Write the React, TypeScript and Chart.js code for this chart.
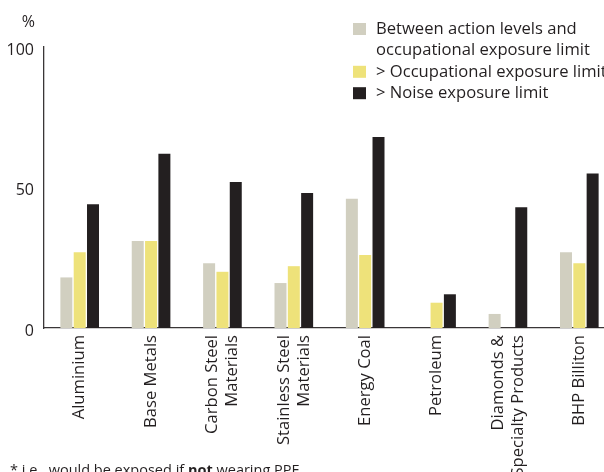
import React, { useEffect, useRef } from "react";
import { Chart, registerables } from "chart.js";

Chart.register(...registerables);

// Business units, with multi-line names split into lines
const categories: string[][] = [
  ["Aluminium"],
  ["Base Metals"],
  ["Carbon Steel", "Materials"],
  ["Stainless Steel", "Materials"],
  ["Energy Coal"],
  ["Petroleum"],
  ["Diamonds &", "Specialty Products"],
  ["BHP Billiton"],
];

// Share of employees (%) in each exposure band
const betweenActionLevels = [18, 31, 23, 16, 46, 0, 5, 27];
const aboveOccupational = [27, 31, 20, 22, 26, 9, 0, 23];
const aboveNoise = [44, 62, 52, 48, 68, 12, 43, 55];

const yTicks = [0, 50, 100];

const legendItems = [
  { lines: ["Between action levels and", "occupational exposure limit"], color: "#d1cfc0" },
  { lines: ["> Occupational exposure limit"], color: "#eee27a" },
  { lines: ["> Noise exposure limit"], color: "#231f20" },
];

const FONT = '"Open Sans", sans-serif';
const TEXT = "#231f20";

const overlay = {
  id: "overlay",
  afterDraw(chart: any) {
    const ctx: CanvasRenderingContext2D = chart.ctx;
    const x = chart.scales.x;
    ctx.save();
    ctx.fillStyle = TEXT;

    // unit label
    ctx.font = `16px ${FONT}`;
    ctx.textAlign = "right";
    ctx.textBaseline = "middle";
    ctx.fillText("%", 35, 22);

    // legend
    ctx.font = `16.6px ${FONT}`;
    ctx.textAlign = "left";
    let row = 0;
    const rowH = 21.4;
    legendItems.forEach((item) => {
      const cy = 29 + row * rowH;
      ctx.fillStyle = item.color;
      ctx.fillRect(353, cy - 6, 13, 12);
      ctx.fillStyle = TEXT;
      item.lines.forEach((line, i) => {
        ctx.fillText(line, 376, cy + i * rowH);
      });
      row += item.lines.length;
    });

    // rotated category labels
    const lh = 20;
    ctx.font = `16.6px ${FONT}`;
    categories.forEach((lines, i) => {
      const cx = x.getPixelForValue(i);
      lines.forEach((line, j) => {
        const px = cx + (j - (lines.length - 1) / 2) * lh;
        ctx.save();
        ctx.translate(px, 335);
        ctx.rotate(-Math.PI / 2);
        ctx.textAlign = "right";
        ctx.textBaseline = "middle";
        ctx.fillText(line, 0, 0);
        ctx.restore();
      });
    });

    // footnote
    ctx.textAlign = "left";
    ctx.textBaseline = "alphabetic";
    const parts: [string, boolean][] = [
      ["* i.e., would be exposed if ", false],
      ["not", true],
      [" wearing PPE", false],
    ];
    let fx = 10;
    parts.forEach(([t, bold]) => {
      ctx.font = `${bold ? "bold " : ""}14.5px ${FONT}`;
      ctx.fillText(t, fx, 475);
      fx += ctx.measureText(t).width;
    });
    ctx.restore();
  },
};

export default function App() {
  const ref = useRef<HTMLCanvasElement>(null);

  useEffect(() => {
    const canvas = ref.current;
    if (!canvas) return;
    const chart = new Chart(canvas, {
      type: "bar",
      data: {
        labels: categories.map((c) => c.join(" ")),
        datasets: [
          { label: legendItems[0].lines.join(" "), data: betweenActionLevels, backgroundColor: legendItems[0].color },
          { label: legendItems[1].lines[0], data: aboveOccupational, backgroundColor: legendItems[1].color },
          { label: legendItems[2].lines[0], data: aboveNoise, backgroundColor: legendItems[2].color },
        ],
      },
      options: {
        responsive: false,
        animation: false,
        devicePixelRatio: 1,
        layout: { padding: { top: 47, right: 0, bottom: 0, left: 0 } },
        datasets: { bar: { categoryPercentage: 0.56, barPercentage: 0.9 } },
        plugins: { legend: { display: false }, tooltip: { enabled: false } },
        scales: {
          x: {
            grid: { display: false, drawTicks: false },
            border: { display: true, color: "#3a3637", width: 1.3 },
            ticks: { display: false },
            afterFit: (s: any) => {
              s.height = 144;
            },
          },
          y: {
            min: 0,
            max: 100,
            afterBuildTicks: (s: any) => {
              s.ticks = yTicks.map((v) => ({ value: v }));
            },
            grid: { display: false, drawTicks: false },
            border: { display: true, color: "#3a3637", width: 1.3 },
            ticks: {
              color: TEXT,
              font: { family: FONT, size: 16 },
              padding: 10,
              labelOffset: 3,
            },
            afterFit: (s: any) => {
              s.width = 44;
            },
          },
        },
      },
      plugins: [overlay],
    });
    return () => chart.destroy();
  }, []);

  return (
    <div style={{ position: "fixed", left: 0, top: 0, width: 604, height: 472, overflow: "hidden", background: "#fff" }}>
      <canvas ref={ref} width={615} height={472} style={{ display: "block" }} />
    </div>
  );
}
